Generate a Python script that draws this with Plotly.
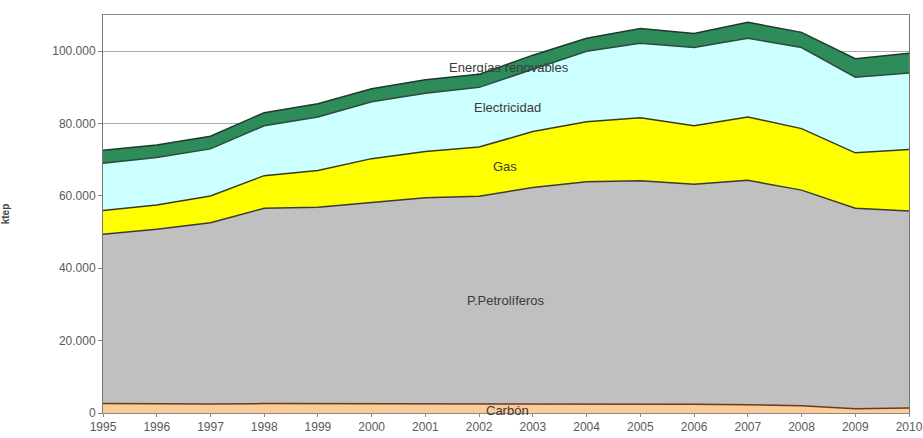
import plotly.graph_objects as go

years = list(range(1995, 2011))
carbon = [2600, 2500, 2500, 2600, 2600, 2600, 2500, 2400, 2400, 2500, 2500, 2400, 2300, 2000, 1200, 1400]
petroliferos = [46800, 48300, 50100, 54000, 54300, 55600, 57000, 57500, 59900, 61400, 61700, 60800, 62000, 59600, 55400, 54400]
gas = [6600, 6700, 7400, 9000, 10100, 12100, 12800, 13600, 15500, 16600, 17400, 16200, 17500, 17000, 15300, 17000]
electricidad = [13000, 13100, 13000, 13800, 14800, 15700, 16100, 16500, 17200, 19500, 20600, 21600, 21800, 22400, 20900, 21200]
renovables = [3600, 3500, 3500, 3600, 3700, 3600, 3700, 3600, 3900, 3600, 4100, 3900, 4400, 4200, 5100, 5400]

y_ticks = [0, 20000, 40000, 60000, 80000, 100000]
y_ticktext = ["0", "20.000", "40.000", "60.000", "80.000", "100.000"]

series = [
    ("Carbón", carbon, "#FBCB98", "#6B3A1E"),
    ("P.Petrolíferos", petroliferos, "#C0C0C0", "#3A3A3A"),
    ("Gas", gas, "#FFFF00", "#3A3A1A"),
    ("Electricidad", electricidad, "#CCFFFF", "#2E4A3A"),
    ("Energías renovables", renovables, "#2E8B5A", "#1E3A2A"),
]

fig = go.Figure()
for name, vals, fill, line in series:
    fig.add_trace(go.Scatter(
        x=years, y=vals, name=name, mode="lines", stackgroup="one",
        fillcolor=fill, line=dict(color=line, width=1.5),
    ))

labels = [
    ("Energías renovables", 2002.55, 95600),
    ("Electricidad", 2002.52, 84500),
    ("Gas", 2002.48, 68000),
    ("P.Petrolíferos", 2002.5, 31200),
    ("Carbón", 2002.52, 800),
]
for text, x, y in labels:
    fig.add_annotation(x=x, y=y, text=text, showarrow=False,
                       font=dict(family="Liberation Sans, Arial", size=13, color="#3a3a3a"))

fig.update_layout(
    width=923, height=438,
    margin=dict(l=103, r=14, t=15, b=25, autoexpand=False),
    paper_bgcolor="white", plot_bgcolor="white",
    showlegend=False,
    font=dict(family="Liberation Sans, Arial", size=12, color="#555555"),
    xaxis=dict(
        range=[1995, 2010], tickmode="array", tickvals=years,
        ticktext=[str(y) for y in years],
        ticks="outside", ticklen=3, tickcolor="#888888",
        showline=True, linecolor="#888888", mirror=True, showgrid=False,
        zeroline=False, tickfont=dict(size=12, color="#5a5a5a"), automargin=False,
    ),
    yaxis=dict(
        range=[0, 110000], tickmode="array", tickvals=y_ticks, ticktext=y_ticktext,
        ticks="outside", ticklen=4, tickcolor="#888888",
        showline=True, linecolor="#777777", mirror=True,
        showgrid=True, gridcolor="#aaaaaa", gridwidth=1, zeroline=False,
        tickfont=dict(size=12, color="#5a5a5a"), automargin=False,
        title=dict(text="<b>ktep</b>", font=dict(size=10, color="#444444"), standoff=40),
    ),
)

fig.write_html("out.html")
